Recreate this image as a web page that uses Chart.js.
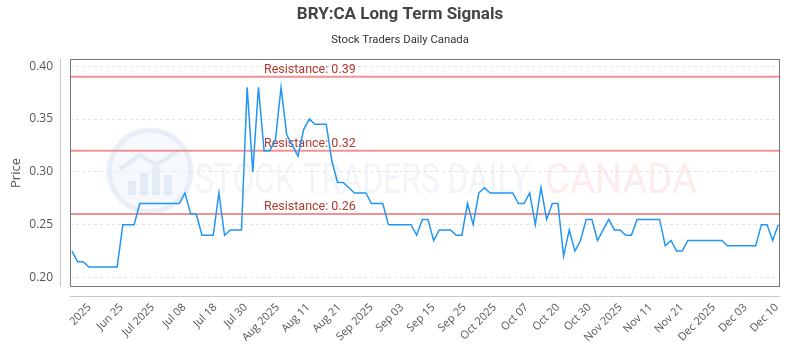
<!DOCTYPE html>
<html>
<head>
<meta charset="utf-8">
<script src="https://cdn.jsdelivr.net/npm/chart.js@4.4.1/dist/chart.umd.min.js"></script>
<style>
  html, body { margin: 0; padding: 0; background: #fff; }
  #wrap { width: 800px; height: 350px; }
</style>
</head>
<body>
<div id="wrap"><canvas id="c" width="800" height="350"></canvas></div>
<script>
// ---- data ----
const priceValues = [
  0.225, 0.215, 0.215, 0.21, 0.21, 0.21, 0.21, 0.21, 0.21, 0.25,
  0.25, 0.25, 0.27, 0.27, 0.27, 0.27, 0.27, 0.27, 0.27, 0.27,
  0.28, 0.26, 0.26, 0.24, 0.24, 0.24, 0.28, 0.24, 0.245, 0.245,
  0.245, 0.38, 0.30, 0.38, 0.32, 0.32, 0.33, 0.38, 0.335, 0.325,
  0.315, 0.34, 0.35, 0.345, 0.345, 0.345, 0.31, 0.29, 0.29, 0.285,
  0.28, 0.28, 0.28, 0.27, 0.27, 0.27, 0.25, 0.25, 0.25, 0.25,
  0.25, 0.24, 0.255, 0.255, 0.235, 0.245, 0.245, 0.245, 0.24, 0.24,
  0.27, 0.25, 0.28, 0.285, 0.28, 0.28, 0.28, 0.28, 0.28, 0.27,
  0.27, 0.28, 0.25, 0.285, 0.255, 0.27, 0.27, 0.22, 0.245, 0.225,
  0.235, 0.255, 0.255, 0.235, 0.245, 0.255, 0.245, 0.245, 0.24, 0.24,
  0.255, 0.255, 0.255, 0.255, 0.255, 0.23, 0.235, 0.225, 0.225, 0.235,
  0.235, 0.235, 0.235, 0.235, 0.235, 0.235, 0.23, 0.23, 0.23, 0.23,
  0.23, 0.23, 0.25, 0.25, 0.235, 0.25
];
const tickLabels = [
  "2025", "Jun 25", "Jul 2025", "Jul 08", "Jul 18", "Jul 30", "Aug 2025",
  "Aug 11", "Aug 21", "Sep 2025", "Sep 03", "Sep 15", "Sep 25", "Oct 2025",
  "Oct 07", "Oct 20", "Oct 30", "Nov 2025", "Nov 11", "Nov 21", "Dec 2025",
  "Dec 03", "Dec 10"
];
// tick positions along the series (in data-point units)
const tickPositions = [
  3.1, 8.75, 14.3, 19.85, 25.35, 30.75, 36.4,
  41.82, 47.33, 53.0, 58.4, 63.92, 69.45, 74.82,
  80.45, 86.0, 91.58, 97.05, 102.4, 107.92, 113.58,
  119.17, 124.7
];
const yTickValues = [0.20, 0.25, 0.30, 0.35, 0.40];
const resistanceLevels = [0.39, 0.32, 0.26];
const titleText = "BRY:CA Long Term Signals";
const subtitleText = "Stock Traders Daily Canada";

const points = priceValues.map((v, i) => ({ x: i, y: v }));

const decor = {
  id: 'decor',
  beforeDraw(chart) {
    const { ctx, width, height } = chart;
    ctx.save();
    ctx.fillStyle = '#ffffff';
    ctx.fillRect(0, 0, width, height);
    ctx.restore();
  },
  beforeDatasetsDraw(chart) {
    const { ctx, chartArea: a, scales } = chart;
    const y = scales.y;
    ctx.save();
    // watermark logo
    const cx = 150, cy = 171, r = 41;
    ctx.beginPath();
    ctx.arc(cx, cy, r, 0, Math.PI * 2);
    ctx.fillStyle = 'rgba(236,241,250,0.5)';
    ctx.fill();
    ctx.lineWidth = 5;
    ctx.strokeStyle = 'rgba(215,225,240,0.5)';
    ctx.stroke();
    ctx.fillStyle = 'rgba(212,222,238,0.5)';
    [[-22, 14], [-10, 22], [2, 28], [14, 20]].forEach(([dx, h]) => {
      ctx.fillRect(cx + dx, cy + 24 - h, 8, h);
    });
    ctx.beginPath();
    ctx.moveTo(cx - 30, cy - 2);
    ctx.lineTo(cx - 10, cy - 16);
    ctx.lineTo(cx + 6, cy - 6);
    ctx.lineTo(cx + 28, cy - 20);
    ctx.lineWidth = 4;
    ctx.strokeStyle = 'rgba(212,222,238,0.5)';
    ctx.stroke();
    // watermark text
    ctx.textBaseline = 'alphabetic';
    ctx.textAlign = 'left';
    ctx.font = '42px Roboto';
    const w1 = ctx.measureText('STOCK TRADERS DAILY').width;
    ctx.save();
    ctx.translate(195, 193);
    ctx.scale(335 / w1, 1);
    ctx.fillStyle = 'rgba(215,224,238,0.35)';
    ctx.fillText('STOCK TRADERS DAILY', 0, 0);
    ctx.restore();
    const w2 = ctx.measureText('CANADA').width;
    ctx.save();
    ctx.translate(545, 193);
    ctx.scale(152 / w2, 1);
    ctx.fillStyle = 'rgba(252,208,208,0.40)';
    ctx.fillText('CANADA', 0, 0);
    ctx.restore();

    // resistance lines
    resistanceLevels.forEach(level => {
      const py = y.getPixelForValue(level);
      ctx.beginPath();
      ctx.moveTo(a.left, py);
      ctx.lineTo(a.right, py);
      ctx.lineWidth = 2;
      ctx.strokeStyle = 'rgba(240,128,128,0.85)';
      ctx.stroke();
      ctx.font = '12.5px Roboto';
      ctx.fillStyle = '#b03a32';
      ctx.textAlign = 'left';
      ctx.textBaseline = 'alphabetic';
      ctx.fillText('Resistance: ' + level.toFixed(2), a.left + 194, py - 4);
    });
    ctx.restore();
  },
  afterDraw(chart) {
    const { ctx, chartArea: a } = chart;
    ctx.save();
    // plot frame
    ctx.strokeStyle = '#777';
    ctx.lineWidth = 1;
    ctx.strokeRect(Math.round(a.left) + 0.5, Math.round(a.top) + 0.5,
                   Math.round(a.right - a.left) - 1, Math.round(a.bottom - a.top) - 1);
    // offset axis lines
    ctx.strokeStyle = '#c8c8c8';
    ctx.beginPath();
    ctx.moveTo(Math.round(a.left) - 9.5, a.top);
    ctx.lineTo(Math.round(a.left) - 9.5, a.bottom);
    ctx.stroke();
    ctx.beginPath();
    ctx.moveTo(a.left, Math.round(a.bottom) + 9.5);
    ctx.lineTo(a.right, Math.round(a.bottom) + 9.5);
    ctx.stroke();
    // titles
    ctx.textAlign = 'center';
    ctx.textBaseline = 'middle';
    ctx.fillStyle = '#444';
    ctx.font = 'bold 17px Roboto';
    ctx.fillText(titleText, 400, 15);
    ctx.fillStyle = '#333';
    ctx.font = '11.3px Roboto';
    ctx.fillText(subtitleText, 400, 40);
    // y axis title
    ctx.save();
    ctx.translate(16, 173);
    ctx.rotate(-Math.PI / 2);
    ctx.fillStyle = '#555';
    ctx.font = '13px "Open Sans"';
    ctx.fillText('Price', 0, 0);
    ctx.restore();
    ctx.restore();
  }
};

new Chart(document.getElementById('c'), {
  type: 'line',
  data: {
    datasets: [{
      data: points,
      borderColor: 'rgb(33,150,243)',
      borderWidth: 1.5,
      pointRadius: 0,
      tension: 0,
      fill: false
    }]
  },
  options: {
    responsive: false,
    animation: false,
    devicePixelRatio: 1,
    layout: { padding: { top: 59, right: 10, left: 0, bottom: 0 } },
    plugins: { legend: { display: false }, tooltip: { enabled: false }, title: { display: false } },
    scales: {
      x: {
        type: 'linear',
        min: -0.35,
        max: 125.35,
        afterFit: s => { s.height = 63; },
        afterBuildTicks: s => { s.ticks = tickPositions.map(v => ({ value: v })); },
        grid: { display: false, drawTicks: false },
        border: { display: false },
        ticks: {
          autoSkip: false,
          minRotation: 45,
          maxRotation: 45,
          padding: 14,
          color: '#555',
          font: { family: 'Open Sans', size: 11 },
          callback: (v, i) => tickLabels[i]
        }
      },
      y: {
        min: 0.191,
        max: 0.4068,
        afterFit: s => { s.width = 70; },
        afterBuildTicks: s => { s.ticks = yTickValues.map(v => ({ value: v })); },
        grid: { color: '#e4e4e4', drawTicks: false },
        border: { display: false, dash: [3, 3] },
        ticks: {
          padding: 17,
          color: '#555',
          font: { family: 'Open Sans', size: 12 },
          callback: v => v.toFixed(2)
        }
      }
    }
  },
  plugins: [decor]
});
</script>
</body>
</html>
